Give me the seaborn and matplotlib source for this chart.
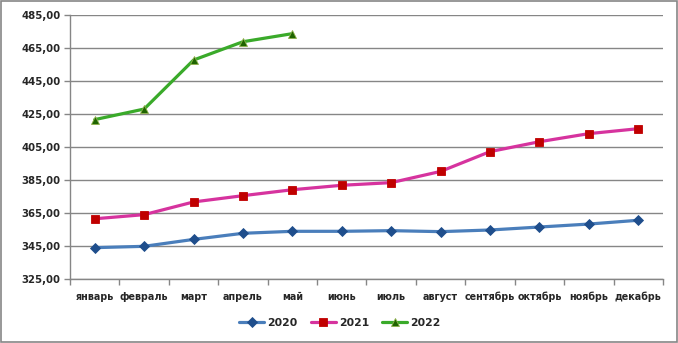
import matplotlib
matplotlib.use("Agg")
import matplotlib.pyplot as plt
import seaborn as sns
import pandas as pd
from matplotlib.ticker import FixedLocator, FuncFormatter
from matplotlib.patches import Rectangle

months = ["январь", "февраль", "март", "апрель", "май", "июнь", "июль",
          "август", "сентябрь", "октябрь", "ноябрь", "декабрь"]
values_2020 = [344.0, 344.8, 349.0, 352.7, 353.9, 353.9, 354.3, 353.7, 354.7, 356.5, 358.3, 360.6]
values_2021 = [361.5, 364.0, 371.7, 375.5, 379.1, 381.8, 383.4, 390.2, 402.2, 408.2, 413.1, 416.1]
values_2022 = [421.6, 428.0, 457.7, 468.8, 473.7]
series_names = ["2020", "2021", "2022"]
y_ticks = [325, 345, 365, 385, 405, 425, 445, 465, 485]

rows = []
for name, vals in zip(series_names, [values_2020, values_2021, values_2022]):
    for m, v in zip(months, vals):
        rows.append({"month": m, "value": v, "year": name})
df = pd.DataFrame(rows)

sns.set_theme(style="white")
plt.rcParams["font.family"] = ["DejaVu Sans"]

fig = plt.figure(figsize=(6.78, 3.43), dpi=100)
ax = fig.add_axes([70/678, 1 - 279/343, (663 - 70)/678, (279 - 15)/343])

palette = {"2020": "#4A7EBB", "2021": "#D6339E", "2022": "#3AAA2A"}
markers = {"2020": "D", "2021": "s", "2022": "^"}
mfc = {"2020": "#1F4E8C", "2021": "#C00000", "2022": "#1E6400"}
mec = {"2020": "#1F4E8C", "2021": "#C00000", "2022": "#8FB04A"}
msize = {"2020": 4.8, "2021": 5.3, "2022": 6.0}

df["x"] = df["month"].map({m: i for i, m in enumerate(months)})
handles = []
for name in series_names:
    sub = df[df["year"] == name]
    sns.lineplot(data=sub, x="x", y="value", ax=ax, color=palette[name],
                 linewidth=2.3, marker=markers[name], markersize=msize[name],
                 markerfacecolor=mfc[name], markeredgecolor=mec[name],
                 markeredgewidth=0.6, legend=False, zorder=3)
    h, = ax.plot([], [], color=palette[name], linewidth=2.3, marker=markers[name],
                 markersize=msize[name], markerfacecolor=mfc[name], markeredgecolor=mec[name],
                 markeredgewidth=0.6)
    handles.append(h)

ax.set_xlim(-0.5, 11.5)
ax.set_ylim(325, 485)
ax.yaxis.set_major_locator(FixedLocator(y_ticks))
ax.yaxis.set_major_formatter(FuncFormatter(lambda v, p: f"{v:.2f}".replace(".", ",")))
ax.set_xticks(range(12))
ax.set_xticklabels(months)
ax.xaxis.set_minor_locator(FixedLocator([i - 0.5 for i in range(13)]))
ax.tick_params(axis="x", which="major", length=0, pad=9, labelsize=6.9)
ax.tick_params(axis="x", which="minor", length=4, color="#868686", width=1, direction="out")
ax.tick_params(axis="y", which="major", length=4, color="#868686", width=1, direction="out",
               labelsize=7.3, pad=3)
ax.xaxis.set_ticks_position("bottom")
ax.yaxis.set_ticks_position("left")
for lbl in ax.get_xticklabels() + ax.get_yticklabels():
    lbl.set_fontweight("bold")

ax.grid(axis="y", color="#868686", linewidth=1)
ax.set_axisbelow(True)
for s in ["top", "right"]:
    ax.spines[s].set_visible(False)
for s in ["left", "bottom"]:
    ax.spines[s].set_color("#868686")
    ax.spines[s].set_linewidth(1)
ax.set_xlabel("")
ax.set_ylabel("")

leg = fig.legend(handles, series_names, loc="center", bbox_to_anchor=(340/678, 1 - 323/343),
                 ncol=3, frameon=False, handlelength=2.3, columnspacing=1.2,
                 prop={"size": 7.8, "weight": "bold"}, handletextpad=0.3)

fig.patches.append(Rectangle((1/678, 1/343), 676/678, 341/343, transform=fig.transFigure,
                             fill=False, edgecolor="#868686", linewidth=1.2))

fig.savefig("out.png", dpi=100)
